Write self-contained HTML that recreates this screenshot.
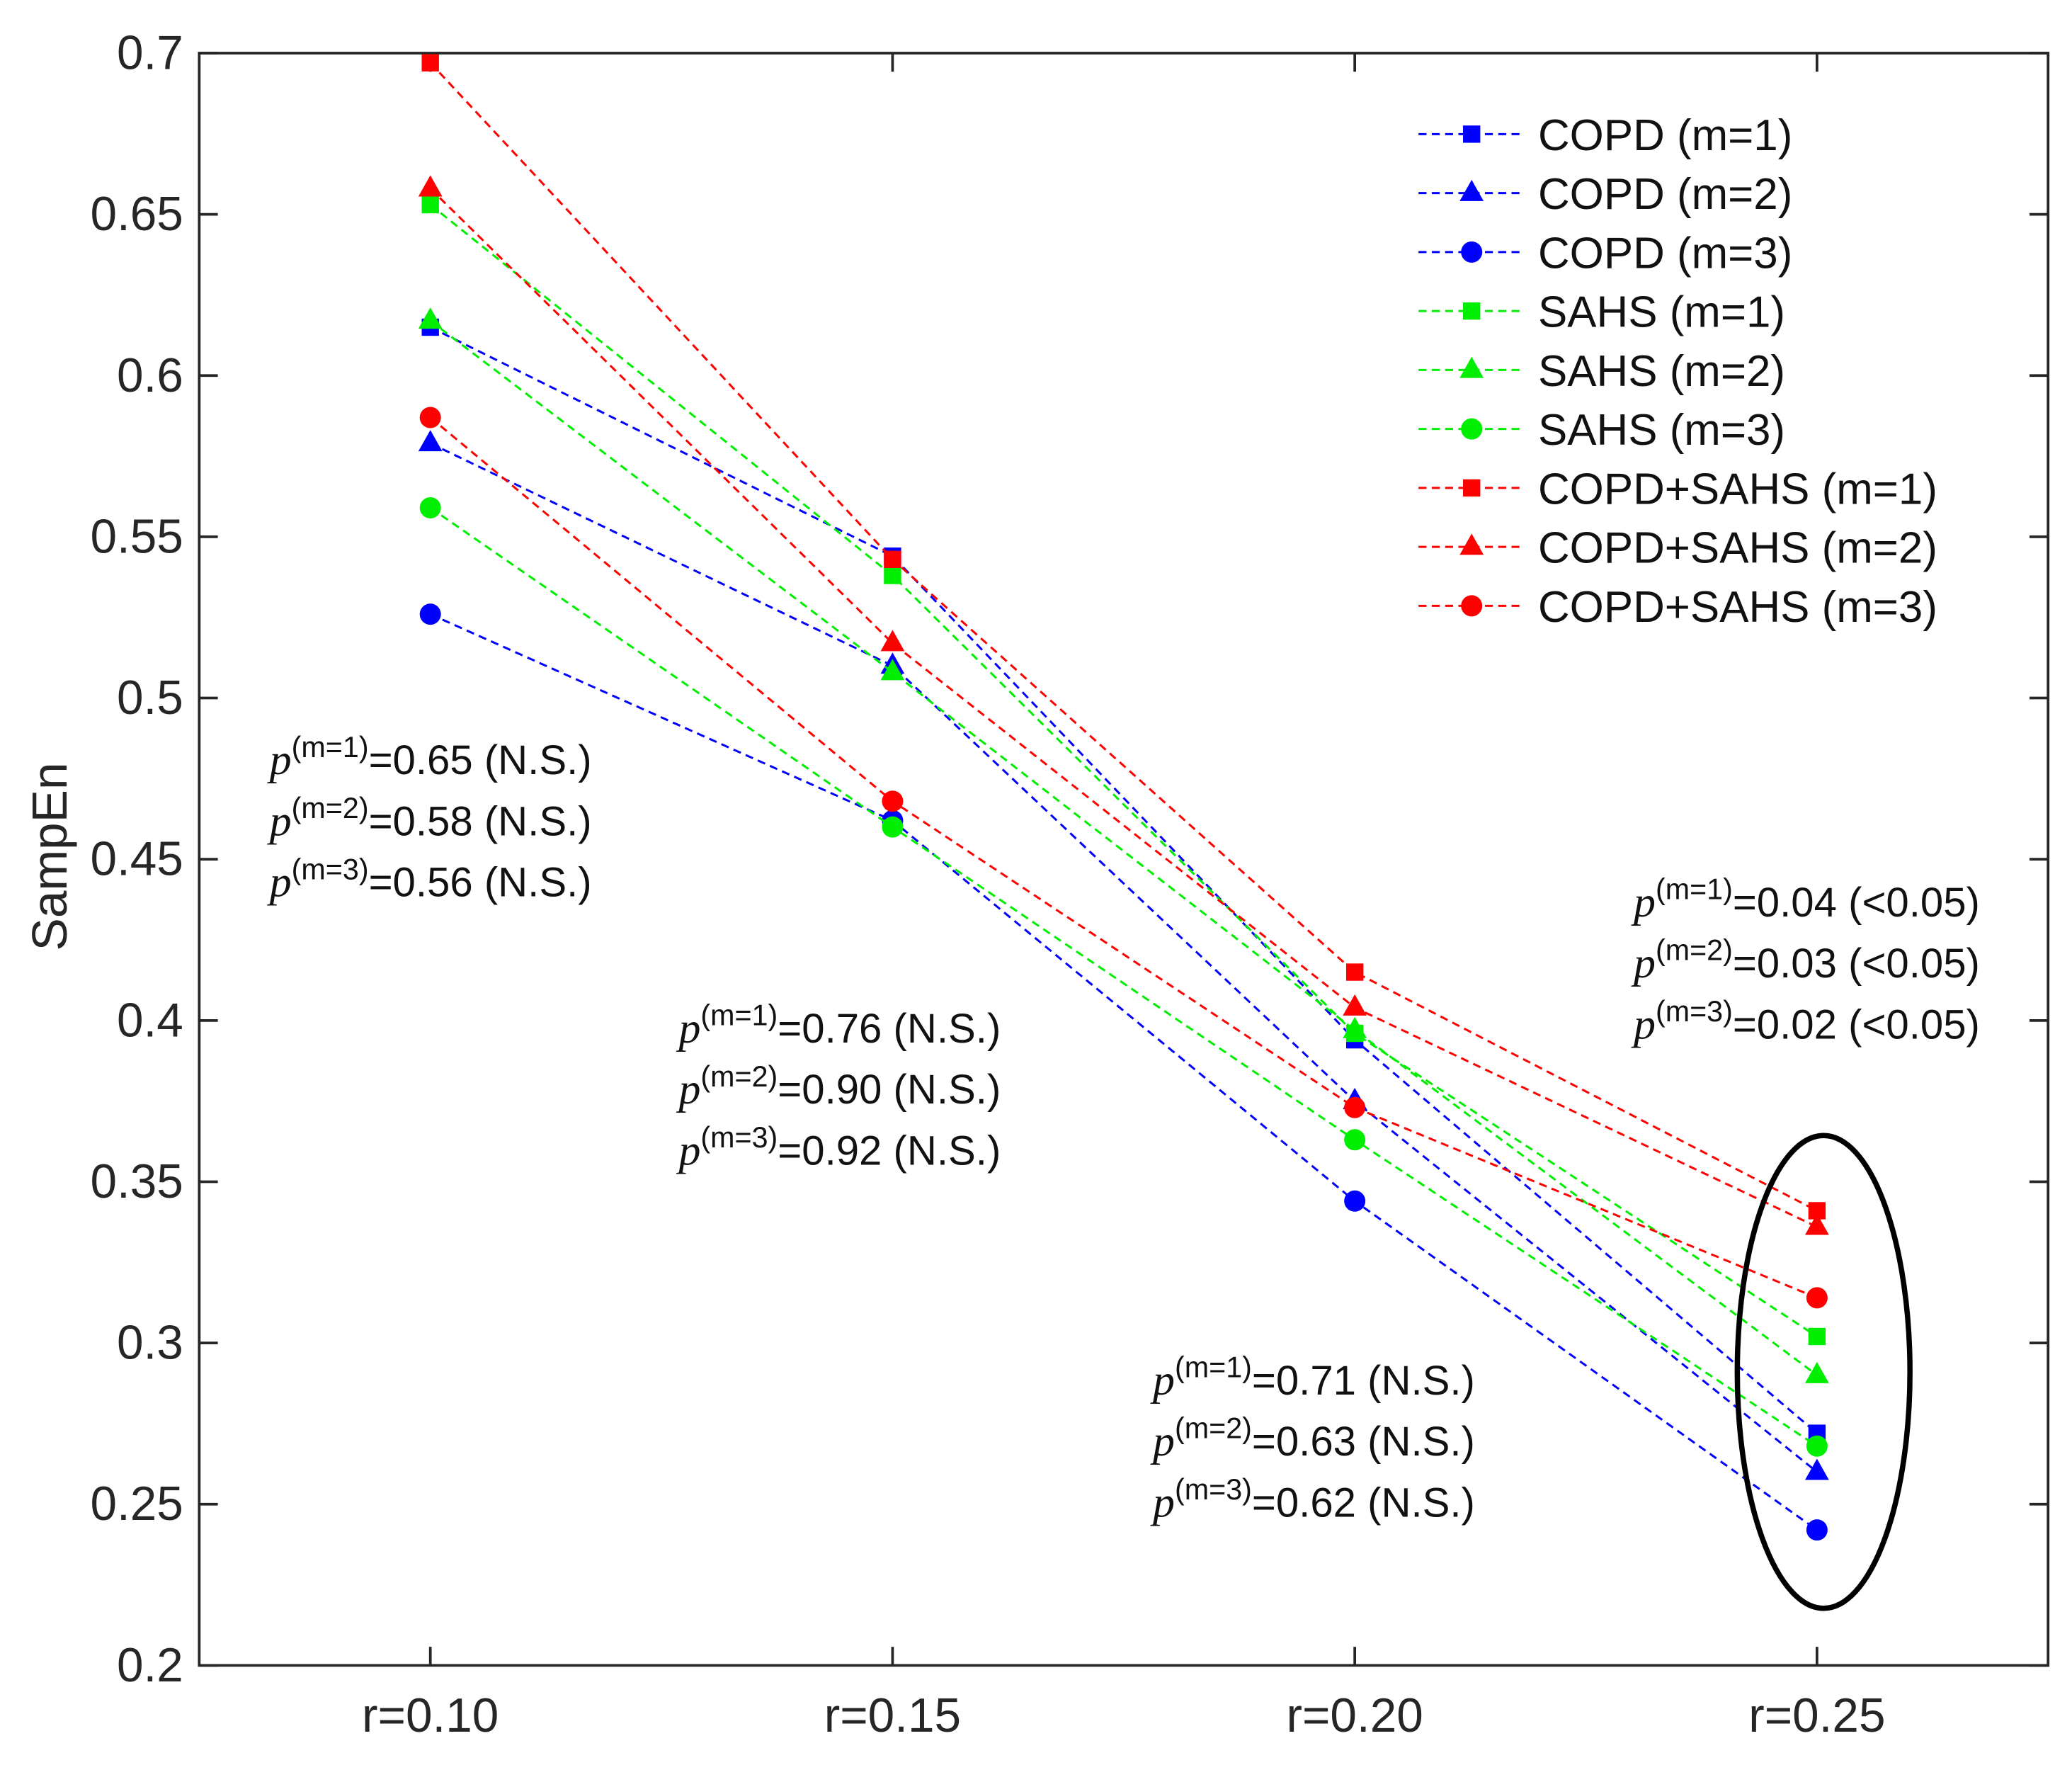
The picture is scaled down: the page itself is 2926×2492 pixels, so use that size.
<!DOCTYPE html>
<html><head><meta charset="utf-8"><style>
html,body{margin:0;padding:0;background:#fff;}
svg{display:block;font-family:"Liberation Sans",Arial,sans-serif;}
</style></head><body>
<svg id="chart" width="2926" height="2492" viewBox="0 0 1560 1329" preserveAspectRatio="none" xmlns="http://www.w3.org/2000/svg">
<rect x="0" y="0" width="1560" height="1329" fill="#fff"/>
<g id="plot"></g>
<text x="50" y="645" transform="rotate(-90 50 645)" text-anchor="middle" font-size="37" fill="#262626">SampEn</text>
<g font-size="31" fill="#111">
<text x="203" y="583"><tspan font-style="italic" font-family="Liberation Serif" font-size="33">p</tspan><tspan font-size="22" dy="-13">(m=1)</tspan><tspan dy="13">=0.65 (N.S.)</tspan></text>
<text x="203" y="629"><tspan font-style="italic" font-family="Liberation Serif" font-size="33">p</tspan><tspan font-size="22" dy="-13">(m=2)</tspan><tspan dy="13">=0.58 (N.S.)</tspan></text>
<text x="203" y="675"><tspan font-style="italic" font-family="Liberation Serif" font-size="33">p</tspan><tspan font-size="22" dy="-13">(m=3)</tspan><tspan dy="13">=0.56 (N.S.)</tspan></text>
<text x="511" y="785"><tspan font-style="italic" font-family="Liberation Serif" font-size="33">p</tspan><tspan font-size="22" dy="-13">(m=1)</tspan><tspan dy="13">=0.76 (N.S.)</tspan></text>
<text x="511" y="831"><tspan font-style="italic" font-family="Liberation Serif" font-size="33">p</tspan><tspan font-size="22" dy="-13">(m=2)</tspan><tspan dy="13">=0.90 (N.S.)</tspan></text>
<text x="511" y="877"><tspan font-style="italic" font-family="Liberation Serif" font-size="33">p</tspan><tspan font-size="22" dy="-13">(m=3)</tspan><tspan dy="13">=0.92 (N.S.)</tspan></text>
<text x="868" y="1050"><tspan font-style="italic" font-family="Liberation Serif" font-size="33">p</tspan><tspan font-size="22" dy="-13">(m=1)</tspan><tspan dy="13">=0.71 (N.S.)</tspan></text>
<text x="868" y="1096"><tspan font-style="italic" font-family="Liberation Serif" font-size="33">p</tspan><tspan font-size="22" dy="-13">(m=2)</tspan><tspan dy="13">=0.63 (N.S.)</tspan></text>
<text x="868" y="1142"><tspan font-style="italic" font-family="Liberation Serif" font-size="33">p</tspan><tspan font-size="22" dy="-13">(m=3)</tspan><tspan dy="13">=0.62 (N.S.)</tspan></text>
<text x="1230" y="690"><tspan font-style="italic" font-family="Liberation Serif" font-size="33">p</tspan><tspan font-size="22" dy="-13">(m=1)</tspan><tspan dy="13">=0.04 (&lt;0.05)</tspan></text>
<text x="1230" y="736"><tspan font-style="italic" font-family="Liberation Serif" font-size="33">p</tspan><tspan font-size="22" dy="-13">(m=2)</tspan><tspan dy="13">=0.03 (&lt;0.05)</tspan></text>
<text x="1230" y="782"><tspan font-style="italic" font-family="Liberation Serif" font-size="33">p</tspan><tspan font-size="22" dy="-13">(m=3)</tspan><tspan dy="13">=0.02 (&lt;0.05)</tspan></text>
</g>
<ellipse cx="1373" cy="1033" rx="65" ry="178" fill="none" stroke="#000" stroke-width="4"/>
<g id="legend"></g>
</svg>
<script>
const categories = ["r=0.10","r=0.15","r=0.20","r=0.25"];
const yTicks = [0.2,0.25,0.3,0.35,0.4,0.45,0.5,0.55,0.6,0.65,0.7];
const yTickLabels = ["0.2","0.25","0.3","0.35","0.4","0.45","0.5","0.55","0.6","0.65","0.7"];
const seriesNames = ["COPD (m=1)","COPD (m=2)","COPD (m=3)","SAHS (m=1)","SAHS (m=2)","SAHS (m=3)","COPD+SAHS (m=1)","COPD+SAHS (m=2)","COPD+SAHS (m=3)"];
const copdM1 = [0.615,0.544,0.394,0.272];
const copdM2 = [0.579,0.510,0.375,0.260];
const copdM3 = [0.526,0.462,0.344,0.242];
const sahsM1 = [0.653,0.538,0.396,0.302];
const sahsM2 = [0.617,0.508,0.397,0.290];
const sahsM3 = [0.559,0.460,0.363,0.268];
const bothM1 = [0.697,0.543,0.415,0.341];
const bothM2 = [0.658,0.517,0.404,0.336];
const bothM3 = [0.587,0.468,0.373,0.314];
const seriesValues = [copdM1,copdM2,copdM3,sahsM1,sahsM2,sahsM3,bothM1,bothM2,bothM3];
const seriesColors = ["#0000ff","#0000ff","#0000ff","#00ee00","#00ee00","#00ee00","#ff0000","#ff0000","#ff0000"];
const seriesMarkers = ["square","triangle","circle","square","triangle","circle","square","triangle","circle"];

const L=150,R=1542,T=40,B=1254;
const yMin=0.2,yMax=0.7;
function xs(i){return L+(i+0.5)/categories.length*(R-L);}
function ys(v){return T+(yMax-v)/(yMax-yMin)*(B-T);}
const NS="http://www.w3.org/2000/svg";
function mk(tag,attrs,parent){const e=document.createElementNS(NS,tag);for(const k in attrs)e.setAttribute(k,attrs[k]);parent.appendChild(e);return e;}
const plot=document.getElementById('plot');

let box=mk('rect',{x:L,y:T,width:R-L,height:B-T,fill:'none',stroke:'#262626','stroke-width':2},plot);


yTicks.forEach((v,i)=>{
  const y=ys(v);
  let t=mk('line',{x1:L,x2:L+14,y1:y,y2:y,stroke:'#262626','stroke-width':2},plot);
  
  
  let t2=mk('line',{x1:R,x2:R-14,y1:y,y2:y,stroke:'#262626','stroke-width':2},plot);
  
  
  let lb=mk('text',{x:L-12,y:y+12,'text-anchor':'end','font-size':36,fill:'#262626'},plot);
  lb.textContent=yTickLabels[i];
  
  
});
categories.forEach((c,i)=>{
  const x=xs(i);
  let t=mk('line',{x1:x,x2:x,y1:B,y2:B-14,stroke:'#262626','stroke-width':2},plot);
  
  
  let t2=mk('line',{x1:x,x2:x,y1:T,y2:T+14,stroke:'#262626','stroke-width':2},plot);
  
  
  let lb=mk('text',{x:x,y:B+50,'text-anchor':'middle','font-size':36,fill:'#262626'},plot);
  lb.textContent=c;
  
  
});
function marker(type,x,y,color,parent){
  let m;
  if(type==='square') m=mk('rect',{x:x-6.5,y:y-6.5,width:13,height:13,fill:color},parent);
  else if(type==='triangle') m=mk('polygon',{points:`${x},${y-10} ${x-9},${y+6} ${x+9},${y+6}`,fill:color},parent);
  else m=mk('circle',{cx:x,cy:y,r:8,fill:color},parent);
  return m;
}
seriesValues.forEach((vals,s)=>{
  const g=mk('g',{},plot);
  
  
  const pts=vals.map((v,i)=>xs(i)+','+ys(v)).join(' ');
  const pl=mk('polyline',{points:pts,fill:'none',stroke:seriesColors[s],'stroke-width':1.6,'stroke-dasharray':'6 4'},g);
  
  
  vals.forEach((v,i)=>{
    const m=marker(seriesMarkers[s],xs(i),ys(v),seriesColors[s],g);
    
    
  });
});
const leg=document.getElementById('legend');
seriesNames.forEach((n,s)=>{
  const y=101+s*44.4;
  const g=mk('g',{},leg);
  
  
  const ln=mk('line',{x1:1068,x2:1148,y1:y,y2:y,stroke:seriesColors[s],'stroke-width':1.6,'stroke-dasharray':'6 4'},g);
  
  
  const m=marker(seriesMarkers[s],1108,y,seriesColors[s],g);
  
  
  const tx=mk('text',{x:1158,y:y+12,'font-size':33,fill:'#111'},g);
  tx.textContent=n;
  
  
});
</script>
</body></html>
